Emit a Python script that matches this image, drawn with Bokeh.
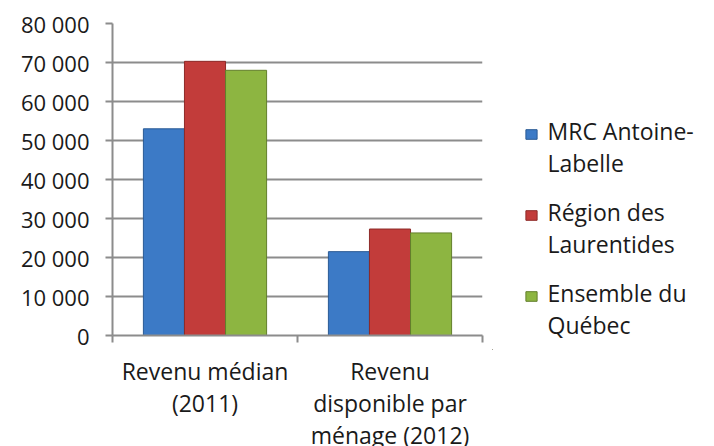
from bokeh.plotting import figure
from bokeh.models import ColumnDataSource, FixedTicker, Range1d, Legend, LegendItem, Label
from bokeh.layouts import row
from bokeh.transform import dodge
from bokeh.embed import file_html
from bokeh.resources import INLINE

categories = ["Revenu médian\n(2011)", "Revenu\ndisponible par\nménage (2012)"]
series = [["MRC Antoine-", "Labelle"], ["Région des", "Laurentides"], ["Ensemble du", "Québec"]]
mrc = [53000, 21500]
laurentides = [70300, 27300]
quebec = [68000, 26300]
colors = ["#3C7AC6", "#C23C3A", "#8DB541"]
edges = ["#2A5A94", "#8E2A28", "#637F2C"]
y_ticks = [0, 10000, 20000, 30000, 40000, 50000, 60000, 70000, 80000]

FONT = "Open Sans"
TXT = "#1a1a1a"
GRID = "#8c8c8c"
TOP, BOTTOM = 23, 130

xc = [i + 0.5 for i in range(len(categories))]
src = ColumnDataSource(data=dict(x=xc, mrc=mrc, lau=laurentides, qc=quebec))

p = figure(frame_width=370, frame_height=312, output_backend="svg", toolbar_location=None,
           x_range=Range1d(0, len(categories)), y_range=Range1d(0, 80000),
           min_border_left=112, min_border_right=10, min_border_top=TOP,
           min_border_bottom=BOTTOM)
p.outline_line_color = None
p.background_fill_color = "white"
p.border_fill_color = "white"

w = 0.222
for k, col in enumerate(["mrc", "lau", "qc"]):
    p.vbar(x=dodge("x", (k - 1) * w, range=p.x_range), top=col, width=w, source=src,
           fill_color=colors[k], line_color=edges[k], line_width=1)

# y axis
p.yaxis.ticker = FixedTicker(ticks=y_ticks)
p.yaxis.major_label_overrides = {t: (f"{t//1000} 000" if t else "0") for t in y_ticks}
p.yaxis.major_label_text_font = FONT
p.yaxis.major_label_text_font_size = "22px"
p.yaxis.major_label_text_color = TXT
p.yaxis.axis_line_color = GRID
p.yaxis.axis_line_width = 2
p.yaxis.major_tick_line_color = GRID
p.yaxis.major_tick_line_width = 2
p.yaxis.major_tick_out = 7
p.yaxis.major_tick_in = 0
p.yaxis.minor_tick_line_color = None
p.yaxis.major_label_standoff = 16

# x axis
p.xaxis.ticker = FixedTicker(ticks=xc, minor_ticks=list(range(len(categories) + 1)))
p.xaxis.major_label_overrides = {x: c for x, c in zip(xc, categories)}
p.xaxis.major_label_text_font = FONT
p.xaxis.major_label_text_font_size = "23px"
p.xaxis.major_label_text_color = TXT
p.xaxis.major_label_text_line_height = 1.0
p.xaxis.major_tick_line_color = None
p.xaxis.major_tick_out = 7
p.xaxis.minor_tick_line_color = GRID
p.xaxis.minor_tick_line_width = 2
p.xaxis.minor_tick_out = 7
p.xaxis.minor_tick_in = 0
p.xaxis.axis_line_color = GRID
p.xaxis.axis_line_width = 2
p.xaxis.major_label_standoff = 12

p.xgrid.grid_line_color = None
p.ygrid.ticker = FixedTicker(ticks=y_ticks)
p.ygrid.grid_line_color = GRID
p.ygrid.grid_line_width = 2

# legend panel: its borders are aligned with the chart's (top 23, bottom 130),
# a taller canvas gives a frame reaching below the chart's baseline
LW = 214
QFRAME = 326
q = figure(width=LW, height=TOP + QFRAME + BOTTOM, output_backend="svg", toolbar_location=None,
           x_range=Range1d(0, 1), y_range=Range1d(0, 1), x_axis_type=None, y_axis_type=None,
           min_border=0)
q.outline_line_color = None
q.xgrid.grid_line_color = None
q.ygrid.grid_line_color = None
q.background_fill_color = "white"
q.border_fill_color = "white"

hidden = ColumnDataSource(data=dict(x=[-1000], top=[0]))
dummies = [q.vbar(x="x", top="top", width=1, source=hidden, fill_color=c, line_color=e)
           for c, e in zip(colors, edges)]

GLYPH = 12
PITCH = 81
LINE = 32
GX = 32
GBOTTOM = 47
legend = Legend(items=[LegendItem(label=" ", renderers=[r]) for r in dummies],
                location=(GX, GBOTTOM), border_line_color=None, background_fill_alpha=0,
                label_text_font_size="1px", glyph_width=GLYPH + 2, glyph_height=GLYPH,
                spacing=PITCH - GLYPH, label_standoff=0, padding=0, margin=0)
q.add_layout(legend, "center")

first_center = GBOTTOM + 2 * PITCH + GLYPH / 2 + 4
for i, lines in enumerate(series):
    for j, line in enumerate(lines):
        q.add_layout(Label(x=GX + 23, y=first_center - i * PITCH - j * LINE,
                           x_units="screen", y_units="screen", text=line,
                           text_font=FONT, text_font_size="23px", text_color=TXT,
                           text_baseline="middle", text_align="left"))

layout = row(p, q, spacing=0)
open("out.html", "w").write(file_html(layout, INLINE))
